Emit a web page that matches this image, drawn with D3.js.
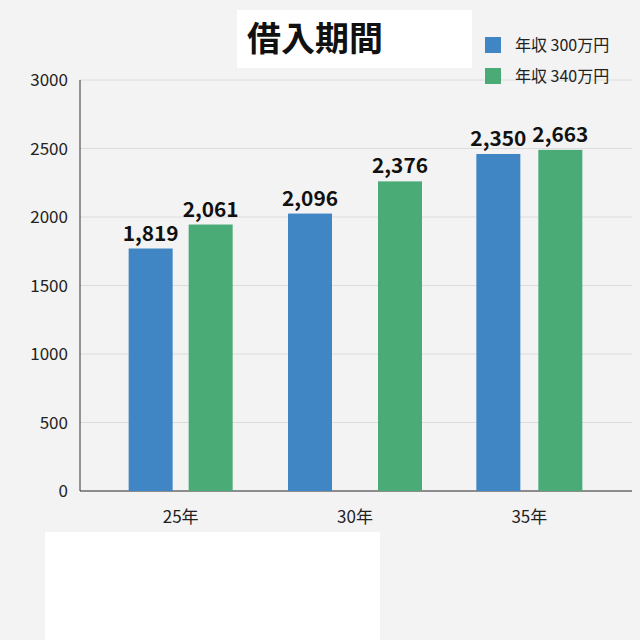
<!DOCTYPE html>
<html><head><meta charset="utf-8">
<script src="https://cdn.jsdelivr.net/npm/d3@7"></script>
<style>body{margin:0;background:#f3f3f3;font-family:"Noto Sans CJK JP","Noto Sans",sans-serif}</style>
</head><body><div id="chart"></div>
<script>
const categories = ["25年", "30年", "35年"];
const seriesNames = ["年収 300万円", "年収 340万円"];
const income300 = [1770, 2025, 2460];
const income340 = [1945, 2260, 2490];
const labels300 = ["1,819", "2,096", "2,350"];
const labels340 = ["2,061", "2,376", "2,663"];
const yTicks = [0, 500, 1000, 1500, 2000, 2500, 3000];
const colors = ["#4186c4", "#4aab77"];

const svg = d3.select("#chart").append("svg").attr("width", 640).attr("height", 640);
svg.append("rect").attr("width", 640).attr("height", 640).attr("fill", "#f3f3f3");
svg.append("rect").attr("x", 45).attr("y", 532).attr("width", 335).attr("height", 108).attr("fill", "#fff");
svg.append("rect").attr("x", 237).attr("y", 10).attr("width", 235).attr("height", 58).attr("fill", "#fff");

const x = d3.scaleBand().domain(categories).range([90, 620]).padding(0.04);
const y = d3.scaleLinear().domain([0, 3000]).range([491, 80]);

svg.append("g").selectAll("line").data(yTicks).join("line")
  .attr("x1", 80).attr("x2", 632).attr("y1", d => y(d)).attr("y2", d => y(d))
  .attr("stroke", "#dcdcdc");
svg.append("line").attr("x1", 80).attr("x2", 80).attr("y1", 80).attr("y2", 491).attr("stroke", "#333");
svg.append("line").attr("x1", 80).attr("x2", 632).attr("y1", 491).attr("y2", 491).attr("stroke", "#333");

svg.append("g").selectAll("text").data(yTicks).join("text")
  .attr("x", 68).attr("y", d => y(d) + 6).attr("text-anchor", "end")
  .attr("font-size", 17).attr("fill", "#222").text(d => d);
svg.append("g").selectAll("text").data(categories).join("text")
  .attr("x", d => x(d) + x.bandwidth() / 2).attr("y", 523).attr("text-anchor", "middle")
  .attr("font-size", 17).attr("fill", "#222").text(d => d);

const series = [income300, income340];
const lbls = [labels300, labels340];
const bw = 44;
const gaps = [8, 23, 9];
series.forEach((vals, s) => {
  const cx = (d, i) => x(categories[i]) + x.bandwidth() / 2 + (s === 0 ? -gaps[i] - bw : gaps[i]);
  svg.append("g").selectAll("rect").data(vals).join("rect")
    .attr("x", cx).attr("y", d => y(d)).attr("width", bw).attr("height", d => 491 - y(d))
    .attr("fill", colors[s]);
  svg.append("g").selectAll("text").data(vals).join("text")
    .attr("x", (d, i) => cx(d, i) + bw / 2).attr("y", d => y(d) - 8).attr("text-anchor", "middle")
    .attr("font-size", 20).attr("font-weight", "600").attr("fill", "#111")
    .attr("textLength", 56).attr("lengthAdjust", "spacingAndGlyphs")
    .text((d, i) => lbls[s][i]);
});

svg.append("text").attr("x", 315).attr("y", 51).attr("text-anchor", "middle")
  .attr("font-size", 34).attr("font-weight", "bold").attr("fill", "#111").text("借入期間");

seriesNames.forEach((n, i) => {
  svg.append("rect").attr("x", 485).attr("y", 37 + i * 31).attr("width", 16).attr("height", 16).attr("fill", colors[i]);
  svg.append("text").attr("x", 515).attr("y", 51 + i * 31).attr("font-size", 16).attr("fill", "#222").text(n);
});
</script></body></html>
